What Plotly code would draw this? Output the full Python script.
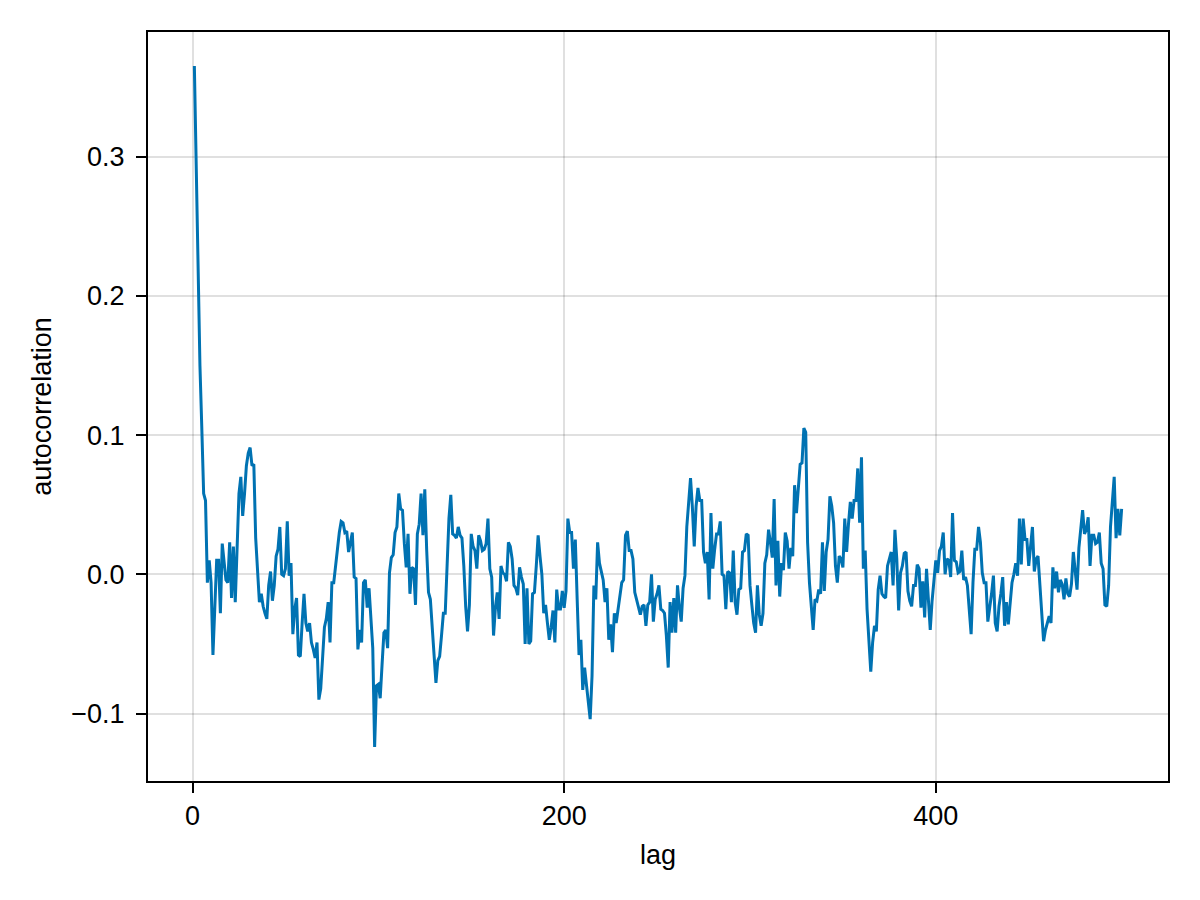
import plotly.graph_objects as go

# autocorrelation per lag (lags 1..500)
lags = list(range(1, 501))
acf = [
    0.365, 0.290, 0.200, 0.150, 0.105, 0.058, 0.053, -0.006, 0.010, -0.006,   # 1-10
    -0.058, -0.024, 0.010, 0.010, -0.028, 0.022, 0.009, -0.004, -0.006, 0.023,
    -0.017, 0.020, -0.020, 0.020, 0.058, 0.070, 0.042, 0.058, 0.078, 0.087,
    0.091, 0.078, 0.079, 0.026, 0.003, -0.020, -0.014, -0.023, -0.028, -0.032,
    -0.008, 0.002, -0.019, -0.008, 0.013, 0.018, 0.034, 0.000, -0.001, 0.004,
    0.038, -0.001, 0.008, -0.043, -0.025, -0.017, -0.058, -0.059, -0.035, -0.014,
    -0.035, -0.041, -0.035, -0.049, -0.054, -0.060, -0.049, -0.090, -0.082, -0.056,
    -0.038, -0.032, -0.020, -0.049, -0.006, -0.006, 0.008, 0.018, 0.030, 0.038,
    0.037, 0.030, 0.031, 0.016, 0.023, 0.030, -0.002, -0.003, -0.054, -0.040,
    -0.049, -0.006, -0.004, -0.024, -0.010, -0.035, -0.053, -0.124, -0.080, -0.079,  # 91-100
    -0.089, -0.065, -0.042, -0.040, -0.053, 0.001, 0.012, 0.014, 0.030, 0.034,
    0.058, 0.047, 0.046, 0.022, 0.005, 0.029, -0.014, 0.005, 0.004, -0.022,
    0.029, 0.036, 0.058, 0.028, 0.061, 0.018, -0.013, -0.018, -0.040, -0.061,
    -0.078, -0.062, -0.059, -0.044, -0.028, -0.028, 0.006, 0.040, 0.057, 0.029,
    0.028, 0.026, 0.034, 0.028, 0.026, 0.006, -0.023, -0.041, -0.022, 0.029,
    0.020, 0.017, 0.004, 0.028, 0.024, 0.017, 0.018, 0.022, 0.040, 0.004,
    -0.002, -0.044, -0.024, -0.013, -0.032, 0.006, 0.001, 0.000, -0.005, 0.023,
    0.020, 0.011, -0.008, -0.010, -0.015, 0.005, -0.002, -0.007, -0.050, -0.010,
    -0.050, -0.048, -0.014, -0.013, 0.006, 0.028, 0.013, 0.000, -0.028, -0.022,
    -0.035, -0.047, -0.038, -0.026, -0.049, -0.011, -0.025, -0.025, -0.012, -0.024,  # 191-200
    -0.012, 0.040, 0.030, 0.030, 0.004, 0.025, -0.018, -0.058, -0.047, -0.083,
    -0.067, -0.080, -0.088, -0.104, -0.073, -0.008, -0.018, 0.023, 0.008, 0.002,
    -0.004, -0.020, -0.010, -0.047, -0.036, -0.056, -0.028, -0.035, -0.025, -0.019,
    -0.006, -0.004, 0.028, 0.031, 0.017, 0.017, 0.011, -0.013, -0.018, -0.024,
    -0.029, -0.023, -0.022, -0.037, -0.022, -0.020, 0.000, -0.034, -0.018, -0.014,
    -0.008, -0.025, -0.026, -0.028, -0.044, -0.067, -0.020, -0.042, -0.017, -0.042,
    -0.008, -0.024, -0.034, -0.010, -0.001, 0.034, 0.052, 0.069, 0.048, 0.020,
    0.049, 0.062, 0.053, 0.053, 0.016, 0.008, 0.016, -0.018, 0.044, 0.004,
    0.018, 0.029, 0.029, 0.038, 0.000, -0.001, -0.025, 0.002, 0.001, -0.020,
    0.017, -0.020, -0.029, -0.011, -0.010, 0.016, 0.017, 0.029, 0.028, -0.008,  # 291-300
    -0.022, -0.035, -0.042, -0.008, -0.029, -0.037, -0.028, 0.008, 0.014, 0.032,
    0.023, 0.012, 0.054, -0.008, 0.024, -0.016, 0.008, 0.003, 0.030, 0.024,
    0.004, 0.019, 0.013, 0.064, 0.044, 0.060, 0.079, 0.080, 0.105, 0.102,
    0.023, -0.006, -0.025, -0.040, -0.018, -0.019, -0.011, -0.014, 0.023, -0.012,
    0.016, 0.025, 0.056, 0.049, 0.037, 0.006, -0.006, 0.013, 0.011, 0.005,
    0.040, 0.016, 0.036, 0.052, 0.040, 0.053, 0.053, 0.076, 0.037, 0.084,
    0.004, 0.017, -0.025, -0.047, -0.070, -0.049, -0.037, -0.041, -0.011, -0.001,
    -0.014, -0.016, -0.017, 0.006, 0.012, 0.016, -0.008, 0.032, 0.011, -0.026,
    0.001, 0.006, 0.015, 0.016, -0.012, -0.019, -0.023, -0.008, -0.008, 0.007,
    0.004, -0.024, -0.005, -0.031, 0.004, -0.020, -0.040, -0.019, -0.006, 0.010,  # 391-400
    0.001, 0.017, 0.020, 0.030, 0.000, 0.011, 0.010, -0.002, 0.044, 0.010,
    0.009, 0.001, 0.002, 0.017, -0.004, -0.002, -0.008, -0.023, -0.043, -0.006,
    0.018, 0.018, 0.034, 0.023, 0.001, -0.006, -0.006, -0.034, -0.025, -0.014,
    -0.001, -0.035, -0.041, -0.023, -0.014, -0.002, -0.037, -0.020, -0.036, -0.020,
    -0.006, 0.000, 0.008, -0.001, 0.040, 0.007, 0.040, 0.025, 0.025, 0.006,
    0.023, 0.034, 0.002, 0.011, 0.013, -0.006, -0.028, -0.048, -0.040, -0.035,
    -0.030, -0.035, 0.005, -0.010, 0.002, -0.013, -0.004, -0.007, -0.018, -0.003,
    -0.014, -0.016, -0.007, 0.016, 0.001, -0.011, 0.019, 0.035, 0.046, 0.029,
    0.032, 0.041, 0.006, 0.028, 0.028, 0.022, 0.023, 0.030, 0.008, 0.004,
    -0.022, -0.023, -0.008, 0.034, 0.056, 0.070, 0.026, 0.047, 0.028, 0.047,  # 491-500
]

x_ticks = [0, 200, 400]
y_ticks = [-0.1, 0.0, 0.1, 0.2, 0.3]

# Makie-style autolimits: 5% padding on each side
def padded(lo, hi, frac=0.05):
    pad = (hi - lo) * frac
    return [lo - pad, hi + pad]

font = dict(family="Liberation Sans, Arial, sans-serif", size=27, color="black")

fig = go.Figure()
fig.add_trace(go.Scatter(
    x=lags, y=acf,
    mode="lines",
    line=dict(color="rgb(0,114,178)", width=3),
    showlegend=False,
))

axis_common = dict(
    showline=True, linecolor="black", linewidth=2, mirror=True,
    ticks="outside", ticklen=10, tickwidth=2, tickcolor="black",
    showgrid=True, gridcolor="rgba(0,0,0,0.12)", gridwidth=2,
    zeroline=False, tickfont=font,
)

# the page body adds ~8px offset, so margins are shifted to compensate
fig.update_layout(
    width=1200, height=900,
    paper_bgcolor="white", plot_bgcolor="white",
    margin=dict(l=140, r=40, t=24, b=127),
    xaxis=dict(
        range=padded(min(lags), max(lags)),
        tickvals=x_ticks,
        title=dict(text="lag", font=font, standoff=15),
        **axis_common,
    ),
    yaxis=dict(
        range=padded(min(acf), max(acf)),
        tickvals=y_ticks, tickformat=".1f",
        ticklabelstandoff=6,
        title=dict(text="autocorrelation", font=font, standoff=12),
        **axis_common,
    ),
)

fig.write_html("out.html")
